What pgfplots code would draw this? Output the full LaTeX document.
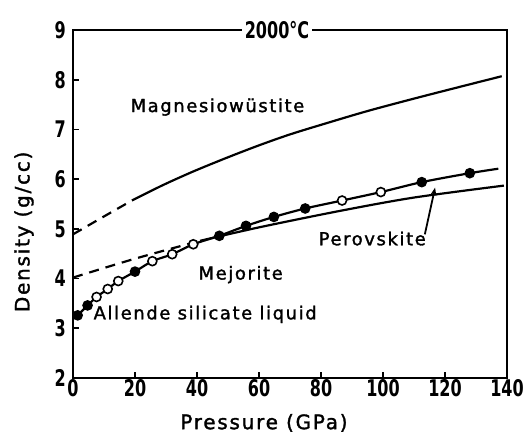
\documentclass[border=0pt]{standalone}
\usepackage{fontspec}
\setmainfont{DejaVu Sans}
\newfontfamily\tickfont[FakeStretch=0.7]{DejaVu Sans}
\newfontfamily\lblfont[LetterSpace=9, FakeBold=1.6]{DejaVu Sans}
\usepackage{pgfplots}
\pgfplotsset{compat=1.18}
\usetikzlibrary{arrows.meta}
\begin{document}
\begin{tikzpicture}
\path[use as bounding box] (-73bp,-58bp) rectangle (452bp,378bp);
\begin{axis}[
  at={(0,0)}, anchor=south west,
  scale only axis, width=434bp, height=348bp,
  xmin=0, xmax=140, ymin=2, ymax=9,
  xtick={0,20,...,140}, ytick={2,3,...,9},
  xtick pos=bottom, ytick pos=left, tick align=inside,
  major tick length=6bp,
  tick style={line width=1.8pt, black},
  axis line style={line width=1.8pt},
  clip=false,
  /pgf/number format/assume math mode=true,
  ticklabel style={font=\tickfont\bfseries\fontsize{23}{26}\selectfont},
  xticklabel style={inner sep=1bp},
  yticklabel style={inner sep=0pt, xshift=-7bp},
  xlabel={Pressure (GPa)},
  xlabel style={font=\lblfont\fontsize{20}{24}\selectfont, at={(axis description cs:0.44,-0.129)}, anchor=center},
  ylabel={Density (g/cc)},
  ylabel style={font=\lblfont\fontsize{20}{24}\selectfont, at={(axis description cs:-0.113,0.42)}, anchor=center},
]
% Magnesiowustite
\addplot[line width=2.2pt, dash pattern=on 10bp off 7bp, smooth] coordinates {(0,4.89) (10,5.25) (19,5.57)};
\addplot[line width=2.2pt, smooth] coordinates {(19,5.57) (29,5.88) (39,6.16) (50,6.44) (60,6.68) (70,6.90) (82,7.13) (95,7.37) (110,7.62) (125,7.86) (138.3,8.07)};
% Mejorite (dashed) and Perovskite (solid)
\addplot[line width=2.2pt, dash pattern=on 10bp off 7bp, smooth] coordinates {(0,4.02) (20,4.40) (41,4.76)};
\addplot[line width=2.2pt, smooth] coordinates {(41,4.76) (60,5.03) (86,5.36) (110,5.63) (139,5.87)};
% Allende silicate liquid
\addplot[line width=2.2pt, smooth] coordinates {(1.5,3.26) (4.7,3.46) (7.6,3.63) (11.2,3.79) (14.6,3.95) (20,4.14) (25.6,4.35) (32,4.49) (38.8,4.69) (47.2,4.86) (55.8,5.06) (64.8,5.24) (74.9,5.41) (86.8,5.57) (99.3,5.74) (112.5,5.94) (128,6.12) (137.2,6.21)};
\addplot[only marks, mark=*, mark size=4.5bp, mark options={line width=1.6pt, draw=black, fill=black}] coordinates {(1.5,3.26) (4.7,3.46) (20,4.14) (47.2,4.86) (55.8,5.06) (64.8,5.24) (74.9,5.41) (112.5,5.94) (128,6.12)};
\addplot[only marks, mark=*, mark size=4.5bp, mark options={line width=1.6pt, draw=black, fill=white}] coordinates {(7.6,3.63) (11.2,3.79) (14.6,3.95) (25.6,4.35) (32,4.49) (38.8,4.69) (86.8,5.57) (99.3,5.74)};
% labels
\node[anchor=base, font=\lblfont\fontsize{18}{20}\selectfont] at (axis cs:46.6,7.35) {Magnesiowüstite};
\node[anchor=base, font=\lblfont\fontsize{18}{20}\selectfont] at (axis cs:54.1,3.98) {Mejorite};
\node[anchor=base west, inner sep=0pt, font=\lblfont\fontsize{18}{20}\selectfont] at (axis cs:6.6,3.18) {Allende silicate liquid};
\node[anchor=base west, inner sep=0pt, font=\lblfont\fontsize{18}{20}\selectfont] at (axis cs:79.2,4.67) {Perovskite};
\draw[line width=1.8pt, -{Stealth[length=8bp,width=6bp]}] (axis cs:113.5,4.89) -- (axis cs:116.8,5.83);
\end{axis}
\node[fill=white, inner sep=3bp, font=\tickfont\bfseries\fontsize{23}{26}\selectfont] at (204bp,348bp) {2000°C};
\end{tikzpicture}
\end{document}
